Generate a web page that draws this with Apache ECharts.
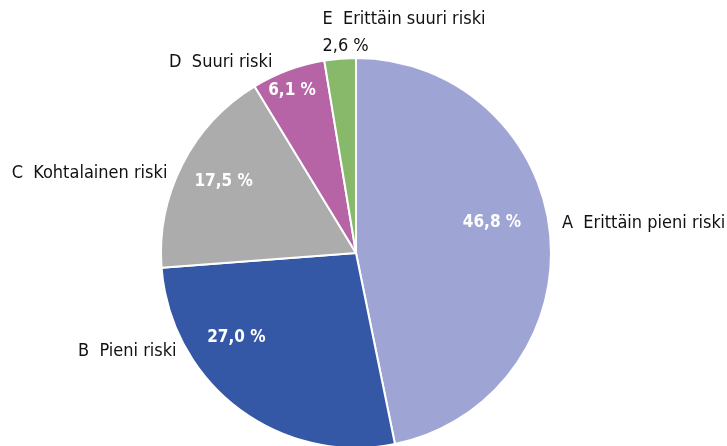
<!DOCTYPE html>
<html lang="fi">

<head>
  <meta charset="UTF-8">
  <title>Riskiluokat</title>
  <script src="https://cdn.jsdelivr.net/npm/echarts@6/dist/echarts.min.js"></script>
</head>
<style>
  * {
    margin: 0px;
    padding: 0px;
  }

  #chart {
    width: 727px;
    height: 446px;
  }
</style>

<body>
  <div id="chart"></div>
</body>
<script>
  // luokat ja osuudet (%)
  var categories = ['A  Erittäin pieni riski', 'B  Pieni riski', 'C  Kohtalainen riski', 'D  Suuri riski', 'E  Erittäin suuri riski']
  var values = [46.8, 27.0, 17.5, 6.1, 2.6]
  var colors = ['#9ea5d5', '#3457a6', '#abacab', '#b664a6', '#88b86a']

  var font = '"DejaVu Sans Condensed", "Liberation Sans Narrow", sans-serif'

  var pieData = categories.map(function (c, i) {
    return { name: c, value: values[i], itemStyle: { color: colors[i] } }
  })

  function fmt(v) {
    return v.toFixed(1).replace('.', ',') + ' %'
  }

  // label nudges, like the hand placed labels of the original
  var outerShift = [[-1, -9], [-52, -64], [-3, 13], [-8, 0], [-12, -18]]
  var innerShift = [[36, -20], [-59, 4], [-43, -26], [-29, -68]]

  var chart = echarts.init(document.getElementById('chart'))
  chart.setOption({
    animation: false,
    series: [{
      name: 'nimet',
      type: 'pie',
      center: [356, 253],
      radius: 195,
      startAngle: 90,
      avoidLabelOverlap: false,
      silent: true,
      itemStyle: {
        borderColor: '#fff',
        borderWidth: 2
      },
      label: {
        show: true,
        position: 'outside',
        color: '#111',
        fontFamily: font,
        fontSize: 18,
        lineHeight: 27,
        formatter: function (p) {
          if (p.dataIndex === 4) return p.name + '\n' + fmt(p.value)
          return p.name
        }
      },
      labelLine: {
        show: false,
        length: 8,
        length2: 0
      },
      labelLayout: function (p) {
        var s = outerShift[p.dataIndex]
        var out = { dx: s[0], dy: s[1] }
        if (p.dataIndex === 4) out.align = 'left'
        return out
      },
      data: pieData
    }, {
      name: 'osuudet',
      type: 'pie',
      center: [356, 253],
      radius: 195,
      startAngle: 90,
      silent: true,
      itemStyle: {
        color: 'transparent'
      },
      label: {
        show: true,
        position: 'inside',
        color: '#fff',
        fontWeight: 'bold',
        fontFamily: font,
        fontSize: 17,
        formatter: function (p) {
          if (p.dataIndex === 4) return ''
          return fmt(p.value)
        }
      },
      labelLayout: function (p) {
        var s = innerShift[p.dataIndex] || [0, 0]
        return { dx: s[0], dy: s[1] }
      },
      data: values.map(function (v, i) {
        return { name: categories[i], value: v }
      })
    }]
  })
</script>

</html>
